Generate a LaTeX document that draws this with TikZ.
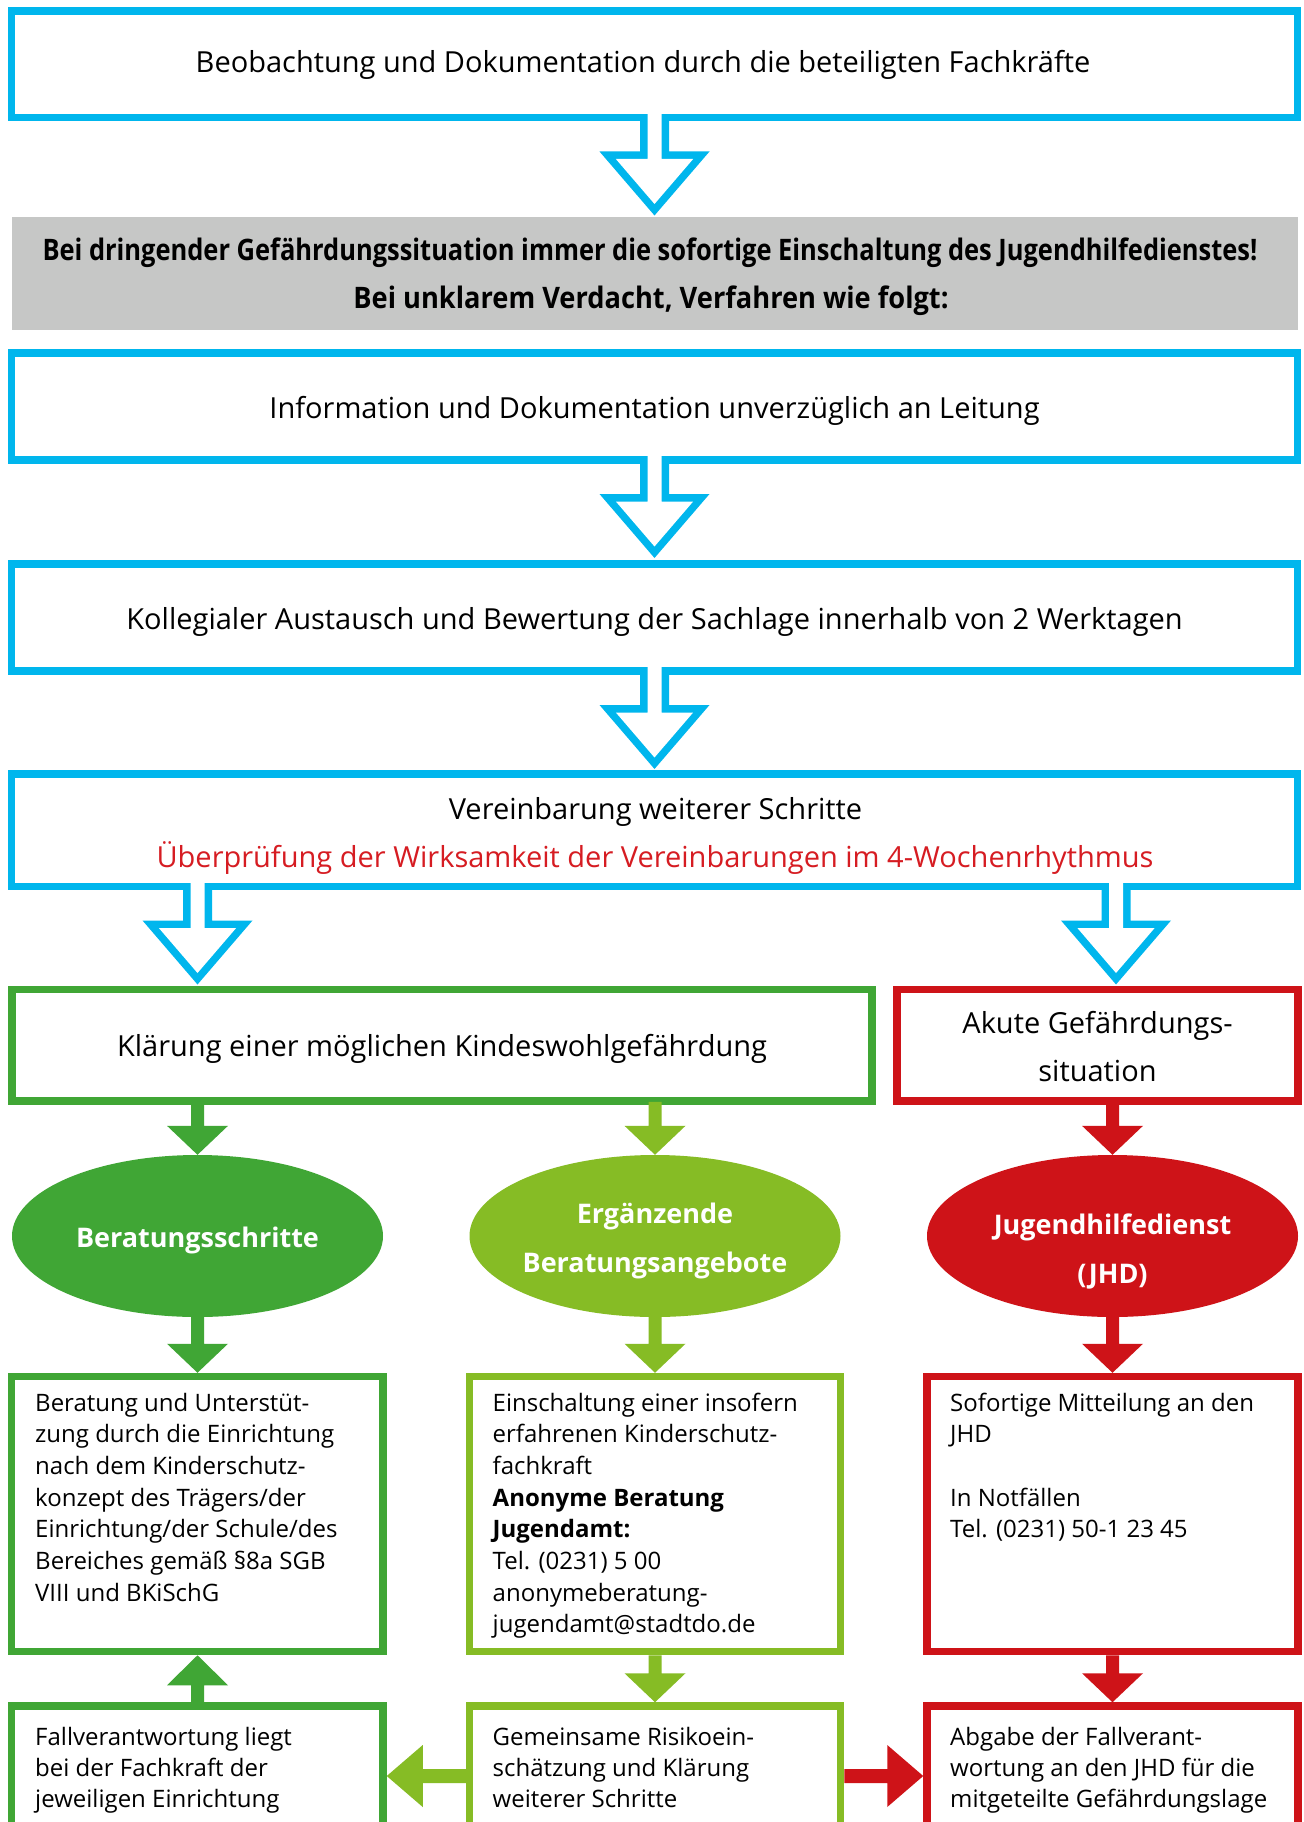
\documentclass[tikz,border=0pt]{standalone}
\usepackage{fontspec}
\setmainfont{Open Sans}
\newfontfamily\grayfam{Open Sans}[FakeStretch=0.86]
\newfontfamily\grayfamb{Open Sans}[FakeStretch=0.92]
\usetikzlibrary{calc,shapes.geometric}
\definecolor{cyanb}{RGB}{0,182,237}
\definecolor{dgreen}{RGB}{64,166,53}
\definecolor{lgreen}{RGB}{134,188,37}
\definecolor{redb}{RGB}{206,19,24}
\definecolor{grayb}{RGB}{198,199,198}
\definecolor{redtext}{RGB}{214,28,34}
\newcommand\bigfont{\fontsize{29}{48}\selectfont}
\newcommand\smallfont{\fontsize{24}{31.7}\selectfont}
\newcommand\smallfontb{\fontsize{24}{30.9}\selectfont}
\newcommand\ellfont{\fontsize{27}{49}\selectfont\bfseries}
\newcommand\grayfont{\grayfam\fontsize{29.6}{48}\selectfont\bfseries}
\newcommand\grayfontb{\grayfamb\fontsize{29.6}{48}\selectfont\bfseries}
% hollow (outline) arrow hanging below a box edge
\newcommand\hollowarrow[2]{%
  \begin{scope}[shift={(#2)}]
    \fill[#1] (-14.5,-6) -- (-14.5,30.25) -- (-55,30.25) -- (0,94.25) -- (55,30.25) -- (14.5,30.25) -- (14.5,-6) -- cycle;
    \fill[white] (-7,-12) -- (-7,37.75) -- (-38.65,37.75) -- (0,82.75) -- (38.65,37.75) -- (7,37.75) -- (7,-12) -- cycle;
  \end{scope}}
% solid block arrow: colour, start, tip, head length, head half width, stem half width
\newcommand\solidarrow[6]{%
  \coordinate (hb) at ($(#3)!#4!(#2)$);
  \fill[#1] ($(#2)!#6!90:(#3)$) -- ($(hb)!#6!90:(#3)$) -- ($(hb)!#5!90:(#3)$) -- (#3)
    -- ($(hb)!#5!-90:(#3)$) -- ($(hb)!#6!-90:(#3)$) -- ($(#2)!#6!-90:(#3)$) -- cycle;}
\begin{document}
\begin{tikzpicture}[x=1pt,y=-1pt,
  boxc/.style={draw=cyanb,line width=7.5pt,rectangle,inner sep=0pt,minimum width=1286pt},
  boxg/.style={draw=dgreen,line width=7.5pt,rectangle,inner sep=0pt},
  boxl/.style={draw=lgreen,line width=7.5pt,rectangle,inner sep=0pt},
  boxr/.style={draw=redb,line width=7.5pt,rectangle,inner sep=0pt},
  ell/.style={ellipse,inner sep=0pt,minimum width=371pt,minimum height=162pt},
  txt/.style={inner sep=0pt,anchor=base,font=\bigfont,align=center},
  ltxt/.style={inner sep=0pt,anchor=base west,align=left,font=\smallfont},
  etxt/.style={inner sep=0pt,anchor=base,align=center,font=\ellfont,text=white}]
\clip (0,0) rectangle (1303,1822);
\fill[white] (0,0) rectangle (1303,1822);

% top chain
\node[boxc,minimum height=106.5pt] (b1) at (654.5,64.25) {};
\node[txt] (t1) at (643,72.7) {Beobachtung und Dokumentation durch die beteiligten Fachkräfte};

\node[fill=grayb,inner sep=0pt,minimum width=1286pt,minimum height=113pt] (gray) at (655,273.5) {};
\node[inner sep=0pt,anchor=base,font=\grayfont] (gt1) at (650,260.5) {Bei dringender Gefährdungssituation immer die sofortige Einschaltung des Jugendhilfedienstes!};
\node[inner sep=0pt,anchor=base,font=\grayfontb] (gt2) at (651,308.5) {Bei unklarem Verdacht, Verfahren wie folgt:};

\node[boxc,minimum height=107pt] (b2) at (654.5,406.5) {};
\node[txt] (t2) at (654.5,418) {Information und Dokumentation unverzüglich an Leitung};

\node[boxc,minimum height=107pt] (b3) at (654.5,617.5) {};
\node[txt] (t3) at (654.5,629) {Kollegialer Austausch und Bewertung der Sachlage innerhalb von 2 Werktagen};

\node[boxc,minimum height=112.5pt] (b4) at (654.5,830.25) {};
\node[txt] (t4a) at (655.5,819) {Vereinbarung weiterer Schritte};
\node[txt,text=redtext] (t4b) at (655,867) {Überprüfung der Wirksamkeit der Vereinbarungen im 4-Wochenrhythmus};

% second level
\node[boxg,minimum width=860pt,minimum height=111.5pt] (g1) at (442,1045.25) {};
\node[txt] (tg1) at (442,1056) {Klärung einer möglichen Kindeswohlgefährdung};
\node[boxr,minimum width=401pt,minimum height=111.5pt] (r1) at (1097.5,1045.25) {};
\node[txt] (tr1) at (1097.5,1081.7) {Akute Gefährdungs-\\situation};

% ellipses
\node[ell,fill=dgreen] (e1) at (197.5,1236) {};
\node[etxt] (te1) at (197.5,1247) {Beratungsschritte};
\node[ell,fill=lgreen] (e2) at (655,1236) {};
\node[etxt] (te2) at (655,1272) {Ergänzende\\Beratungsangebote};
\node[ell,fill=redb] (e3) at (1112.5,1236) {};
\node[etxt] (te3) at (1112.5,1283) {Jugendhilfedienst\\(JHD)};

% row 1 boxes
\node[boxg,minimum width=371.5pt,minimum height=275pt] (c1) at (197.25,1514) {};
\node[ltxt] (tc1) at (35,1601.2) {Beratung und Unterstüt-\\zung durch die Einrichtung\\nach dem Kinderschutz-\\konzept des Trägers/der\\Einrichtung/der Schule/des\\Bereiches gemäß §8a SGB\\VIII und BKiSchG};
\node[boxl,minimum width=371pt,minimum height=275pt] (c2) at (655,1514) {};
\node[ltxt] (tc2) at (492.5,1632.9) {Einschaltung einer insofern\\erfahrenen Kinderschutz-\\fachkraft\\\textbf{Anonyme Beratung}\\\textbf{Jugendamt:}\\Tel. (0231) 5 00\\anonymeberatung-\\jugendamt@stadtdo.de};
\node[boxr,minimum width=371pt,minimum height=275pt] (c3) at (1112.5,1514) {};
\node[ltxt] (tc3) at (950,1537.8) {Sofortige Mitteilung an den\\JHD\\[31.7pt]In Notfällen\\Tel. (0231) 50-1 23 45};

% row 2 boxes (cut by the page edge)
\node[boxg,minimum width=371.5pt,minimum height=164pt] (d1) at (197.25,1788) {};
\node[ltxt,font=\smallfontb] (td1) at (35,1807) {Fallverantwortung liegt\\bei der Fachkraft der\\jeweiligen Einrichtung};
\node[boxl,minimum width=371pt,minimum height=164pt] (d2) at (655,1788) {};
\node[ltxt,font=\smallfontb] (td2) at (492.5,1807) {Gemeinsame Risikoein-\\schätzung und Klärung\\weiterer Schritte};
\node[boxr,minimum width=371pt,minimum height=164pt] (d3) at (1112.5,1788) {};
\node[ltxt,font=\smallfontb] (td3) at (950,1807) {Abgabe der Fallverant-\\wortung an den JHD für die\\mitgeteilte Gefährdungslage};
\coordinate (mid) at (655,1776);

% hollow arrows
\hollowarrow{cyanb}{b1.south}
\hollowarrow{cyanb}{b2.south}
\hollowarrow{cyanb}{b3.south}
\hollowarrow{cyanb}{e1.north |- b4.south}
\hollowarrow{cyanb}{$(e3.north |- b4.south)+(3.5,0)$}

% solid arrows
\solidarrow{dgreen}{e1.north |- g1.south}{e1.north}{29pt}{30.5pt}{6.5pt}
\solidarrow{lgreen}{$(e2.north |- g1.south)+(0,-3)$}{e2.north}{29pt}{30.5pt}{6.5pt}
\solidarrow{redb}{e3.north |- r1.south}{e3.north}{29pt}{30.5pt}{6.5pt}
\solidarrow{dgreen}{e1.south}{e1.south |- c1.north}{29pt}{30.5pt}{6.5pt}
\solidarrow{lgreen}{e2.south}{e2.south |- c2.north}{29pt}{30.5pt}{6.5pt}
\solidarrow{redb}{e3.south}{e3.south |- c3.north}{29pt}{30.5pt}{6.5pt}
\solidarrow{dgreen}{e1.south |- d1.north}{e1.south |- c1.south}{30pt}{30.5pt}{6.5pt}
\solidarrow{lgreen}{c2.south}{d2.north}{29pt}{30.5pt}{6.5pt}
\solidarrow{redb}{e3.south |- c3.south}{e3.south |- d3.north}{29pt}{30.5pt}{6.5pt}
\solidarrow{lgreen}{d2.west |- mid}{d1.east |- mid}{36pt}{31pt}{7pt}
\solidarrow{redb}{d2.east |- mid}{d3.west |- mid}{36pt}{31pt}{7pt}
\end{tikzpicture}
\end{document}
